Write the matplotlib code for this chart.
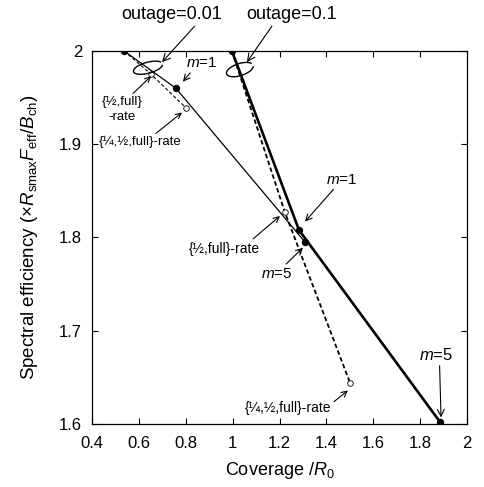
import numpy as np
import matplotlib
matplotlib.use('Agg')
import matplotlib.pyplot as plt

plt.rcParams['font.family'] = ['Liberation Sans', 'DejaVu Sans']
plt.rcParams['mathtext.fontset'] = 'custom'
plt.rcParams['mathtext.rm'] = 'Liberation Sans'
plt.rcParams['mathtext.it'] = 'Liberation Sans:italic'

# outage = 0.01 (thin lines)
cov_001_solid = [0.537, 0.758, 1.309]
se_001_solid = [2.000, 1.960, 1.795]
cov_001_dash = [0.537, 0.652, 0.801]
se_001_dash = [2.000, 1.975, 1.939]

# outage = 0.1 (thick lines)
cov_01_solid = [0.997, 1.283, 1.885]
se_01_solid = [2.000, 1.808, 1.602]
cov_01_dash = [0.997, 1.223, 1.501]
se_01_dash = [2.000, 1.827, 1.644]

x_ticks = [0.4, 0.6, 0.8, 1.0, 1.2, 1.4, 1.6, 1.8, 2.0]
x_tick_labels = ['0.4', '0.6', '0.8', '1', '1.2', '1.4', '1.6', '1.8', '2']
y_ticks = [1.6, 1.7, 1.8, 1.9, 2.0]
y_tick_labels = ['1.6', '1.7', '1.8', '1.9', '2']

fig = plt.figure(figsize=(4.84, 4.87), dpi=100)
ax = fig.add_axes([0.190, 0.1294, 0.775, 0.766])

ax.plot(cov_001_dash, se_001_dash, color='black', linewidth=0.8, linestyle=(0, (3, 2)),
        marker='o', markersize=4, markerfacecolor='white', markeredgewidth=0.6, markevery=[1, 2])
ax.plot(cov_01_dash, se_01_dash, color='black', linewidth=1.3, linestyle=(0, (2.5, 1.5)),
        marker='o', markersize=4, markerfacecolor='white', markeredgewidth=0.6, markevery=[1, 2])
ax.plot(cov_001_solid, se_001_solid, color='black', linewidth=0.9,
        marker='o', markersize=4.3, markerfacecolor='black')
ax.plot(cov_01_solid, se_01_solid, color='black', linewidth=1.9,
        marker='o', markersize=4.3, markerfacecolor='black')

ax.set_xlim(0.4, 2.0)
ax.set_ylim(1.6, 2.0)
ax.set_xticks(x_ticks)
ax.set_xticklabels(x_tick_labels)
ax.set_yticks(y_ticks)
ax.set_yticklabels(y_tick_labels)
ax.tick_params(direction='in', top=True, right=True, length=4, width=0.8, labelsize=12)
ax.tick_params(axis='x', pad=9)
ax.tick_params(axis='y', pad=7)
for s in ax.spines.values():
    s.set_linewidth(0.9)

ax.set_xlabel('Coverage /$R_0$', fontsize=13, labelpad=6)
ax.set_ylabel(r'Spectral efficiency ($\times R_{\rm smax}F_{\rm eff}/B_{\rm ch}$)', fontsize=13.5, labelpad=14)

# lasso ellipses (pixel-shaped, placed in data coords)
sx = 1.6 / 375.0
sy = 0.4 / 373.0
def lasso(cx, cy, a, b, ang):
    t = np.linspace(np.radians(25), np.radians(345), 100)
    th = np.radians(ang)
    u = a * np.cos(t)
    v = b * np.sin(t)
    x = cx + (u * np.cos(th) - v * np.sin(th)) * sx
    y = cy + (u * np.sin(th) + v * np.cos(th)) * sy
    ax.plot(x, y, color='black', linewidth=1.0, clip_on=False)

lasso(0.639, 1.982, 15, 5.5, 15)
lasso(1.031, 1.980, 14, 6, 18)

arr = dict(arrowstyle='->', color='black', linewidth=0.8, shrinkA=0, shrinkB=0)

ax.annotate('outage=0.01', xy=(0.699, 1.988), xytext=(0.741, 2.0386), fontsize=13,
            ha='center', va='center', annotation_clip=False,
            arrowprops=dict(arr, relpos=(0.75, 0.0)))
ax.annotate('outage=0.1', xy=(1.061, 1.988), xytext=(1.253, 2.0386), fontsize=13,
            ha='center', va='center', annotation_clip=False,
            arrowprops=dict(arr, relpos=(0.3, 0.0)))

ax.annotate('$m$=1', xy=(0.788, 1.967), xytext=(0.869, 1.987), fontsize=11,
            ha='center', va='center', arrowprops=dict(arr, relpos=(0.2, 0.0)))
ax.annotate('{½,full}\n-rate', xy=(0.652, 1.973), xytext=(0.528, 1.937), fontsize=9.5,
            ha='center', va='center', linespacing=1.3, arrowprops=dict(arr, relpos=(0.7, 1.0)))
ax.annotate('{¼,½,full}-rate', xy=(0.784, 1.934), xytext=(0.605, 1.902), fontsize=9.5,
            ha='center', va='center', arrowprops=dict(arr, relpos=(0.65, 1.0)))

ax.annotate('{½,full}-rate', xy=(1.202, 1.823), xytext=(0.967, 1.788), fontsize=10,
            ha='center', va='center', arrowprops=dict(arr, relpos=(0.85, 1.0)))
ax.annotate('$m$=1', xy=(1.309, 1.817), xytext=(1.467, 1.862), fontsize=11,
            ha='center', va='center', arrowprops=dict(arr, relpos=(0.3, 0.0)))
ax.annotate('$m$=5', xy=(1.300, 1.789), xytext=(1.189, 1.761), fontsize=11,
            ha='center', va='center', arrowprops=dict(arr, relpos=(0.7, 1.0)))

ax.annotate('{¼,½,full}-rate', xy=(1.492, 1.636), xytext=(1.236, 1.617), fontsize=10,
            ha='center', va='center', arrowprops=dict(arr, relpos=(1.0, 0.8)))
ax.annotate('$m$=5', xy=(1.889, 1.607), xytext=(1.868, 1.674), fontsize=12,
            ha='center', va='center', arrowprops=dict(arr, relpos=(0.6, 0.0)))

fig.savefig('out.png', dpi=100)
